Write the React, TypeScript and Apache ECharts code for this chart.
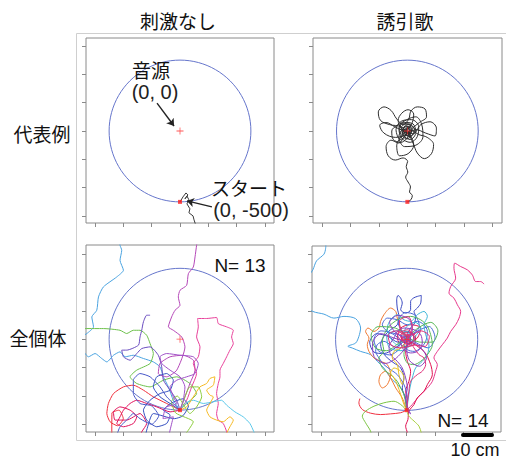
import React, { useEffect, useRef } from "react";
import * as echarts from "echarts";

// ---------- data (arena units) ----------
const ARENA_RADIUS = 500;
const SOURCE = [0, 0];
const START = [0, -500];
const TICKS = [-600, -400, -200, 0, 200, 400, 600];

const colTitles = ["刺激なし", "誘引歌"];
const rowTitles = ["代表例", "全個体"];
const nLabels = ["N= 13", "N= 14"];

// representative example, no stimulus
const exampleNoStim = [
  [0, -500], [21, -465], [42, -437], [56, -451], [35, -479], [49, -458], [63, -486],
  [49, -514], [70, -549], [63, -577], [92, -599], [99, -627], [113, -669], [120, -720],
];

// representative example, attractive song
const exampleSong = [
  [0, -500], [25, -485], [35, -455], [15, -430], [22, -395], [5, -360], [-12, -325], [3, -290], [-8, -250], [2, -215],
  [-30, -190], [-85, -205], [-135, -175], [-150, -110], [-115, -65], [-60, -85], [-25, -45],
  [25, 5], [80, -25], [140, -45], [185, -95], [170, -160], [120, -195], [70, -155], [40, -85], [5, -20],
  [-45, 30], [-125, 45], [-190, 75], [-205, 135], [-165, 170], [-115, 145], [-75, 85], [-30, 45],
  [10, 85], [25, 140], [70, 170], [125, 155], [135, 100], [85, 60], [35, 20],
  [-20, -30], [-85, -45], [-165, -15], [-195, 40], [-150, 60], [-90, 30], [-35, 5],
  [40, -20], [95, 45], [160, 65], [205, 20], [195, -35], [130, -15], [60, 10], [10, -10],
  [-40, 15], [-65, 75], [-40, 125], [5, 150], [45, 120], [35, 60], [10, 20],
  [-25, -15], [-75, -105], [-55, -175], [5, -160], [45, -100], [25, -40],
  [-10, 5], [25, 35], [-35, 55], [-55, 5], [-5, -55], [55, 5], [5, 45], [-25, 20], [15, -25],
  [35, 15], [-15, 35], [-35, -20], [25, -35], [0, 5], [-20, -10], [15, -5], [5, 20], [-10, 10], [0, -10],
  [-50, -60], [-80, 10], [-40, 70], [30, 80], [80, 30], [70, -40], [20, -80], [-40, -50], [-60, 20], [-20, 60],
  [40, 50], [60, -10], [20, -60], [-30, -30], [-40, 30], [10, 50], [50, 10], [20, -40], [-20, -20], [-30, 20],
  [10, 30], [30, 0], [0, -30], [-25, 0], [5, 25], [25, -10], [-5, -20], [-15, 10], [10, 15], [15, -10],
  [-45, -80], [-100, -60], [-110, 0], [-70, 40], [60, 100], [100, 50], [110, -40], [60, -100], [-20, -110],
  [-60, -40], [-30, 10], [0, 0],
];

// all individuals, no stimulus (N = 13)
const ns01 = [[0,-500],[-47,-430],[-82,-336],[-117,-265],[-141,-195],[-188,-160],[-258,-136],[-329,-113],[-387,-124],[-423,-89],[-469,-113],[-516,-160],[-552,-136],[-599,-101],[-646,-124],[-669,-101],[-728,-7],[-657,40],[-610,87],[-622,157],[-587,204],[-575,298],[-540,369],[-446,439],[-399,486],[-423,556],[-411,627],[-423,662],[-427,721]];
const ns02 = [[0,-500],[47,-453],[117,-383],[70,-312],[-23,-265],[-117,-289],[-211,-336],[-305,-312],[-352,-265],[-305,-218],[-211,-171],[-188,-101],[-211,-31],[-235,28],[-282,63],[-329,63],[-376,40],[-423,63],[-540,75],[-669,75],[-728,75]];
const ns03 = [[0,-500],[-23,-430],[-70,-359],[-117,-289],[-129,-195],[-153,-113],[-211,-54],[-270,-66],[-305,-101],[-352,-148],[-399,-124],[-411,-77],[-376,-77],[-293,-42],[-282,16],[-270,63],[-258,122],[-235,169],[-211,169]];
const ns04 = [[0,-500],[35,-406],[70,-312],[106,-218],[94,-148],[23,-113],[-70,-124],[-141,-171],[-153,-242],[-94,-265],[-23,-218],[35,-54],[12,16],[-47,63],[-82,87],[-59,157],[-35,204],[0,239],[-12,298],[0,345],[47,380],[59,462],[94,509],[106,580],[117,662],[124,721]];
const ns05 = [[0,-500],[47,-430],[82,-336],[117,-242],[94,-171],[129,-124],[141,-54],[117,16],[129,87],[124,146],[188,146],[258,153],[270,110],[329,87],[376,63],[364,16],[376,-31],[352,-77],[329,-124],[305,-171],[282,-218],[282,-265],[270,-312],[258,-383],[270,-453],[258,-524],[270,-570],[305,-594],[329,-653],[333,-711]];
const ns06 = [[0,-500],[-94,-453],[-188,-406],[-258,-359],[-329,-324],[-399,-336],[-469,-383],[-505,-453],[-516,-524],[-493,-582],[-440,-610],[-400,-560],[-430,-500],[-480,-520],[-481,-664],[-470,-720]];
const ns07 = [[0,-500],[-70,-512],[-164,-477],[-235,-453],[-305,-430],[-352,-453],[-399,-500],[-423,-547],[-446,-594],[-399,-617],[-329,-594],[-305,-547],[-352,-500],[-423,-477],[-469,-512],[-458,-570],[-376,-570],[-282,-524],[-235,-594],[-270,-653],[-282,-688]];
const ns08 = [[0,-500],[-70,-453],[-141,-406],[-188,-336],[-164,-265],[-94,-242],[-47,-289],[-70,-359],[-141,-383],[-211,-430],[-258,-500],[-235,-570],[-164,-617],[-94,-594],[-70,-535],[-117,-500],[-60,-450],[20,-420],[60,-470],[20,-540],[-40,-560],[-188,-524],[-235,-641],[-246,-700]];
const ns09 = [[0,-500],[35,-453],[94,-430],[164,-453],[235,-441],[293,-430],[329,-465],[387,-512],[446,-547],[493,-594],[521,-653],[540,-711]];
const ns10 = [[0,-500],[47,-477],[94,-406],[141,-336],[188,-312],[211,-277],[246,-265],[235,-324],[188,-359],[211,-394],[235,-406],[211,-453],[188,-500],[211,-547],[258,-570],[305,-582],[352,-547],[376,-570],[352,-617],[329,-664],[320,-710]];
const ns11 = [[0,-500],[35,-406],[70,-336],[129,-336],[153,-406],[117,-477],[70,-524],[30,-470],[-20,-400],[-60,-440],[-30,-520],[94,-582],[59,-641],[23,-688]];
const ns12 = [[0,-500],[-47,-453],[-94,-406],[-141,-336],[-211,-265],[-282,-242],[-329,-289],[-329,-383],[-282,-453],[-200,-470],[-150,-540],[-200,-600],[-282,-560],[-329,-524],[-376,-570],[-423,-617],[-446,-676]];
const ns13 = [[0,-500],[23,-430],[35,-336],[0,-265],[-70,-218],[-129,-171],[-141,-124],[-94,-101],[0,-113],[94,-124],[129,-171],[106,-242],[47,-265],[-23,-289],[-70,-336],[-47,-406],[-23,-453],[-100,-480],[-120,-560],[-47,-547],[-70,-641],[-82,-700]];

// all individuals, attractive song (N = 14)
const sg01 = [[0,-500],[-7,-413],[-42,-343],[-113,-272],[-160,-202],[-207,-155],[-254,-108],[-324,-85],[-383,-61],[-413,-49],[-359,-26],[-336,21],[-324,80],[-359,146],[-441,162],[-512,150],[-582,178],[-660,197],[-723,244],[-711,408],[-660,491],[-634,554],[-582,601],[-570,643],[-568,690]];
const sg02 = [[0,-500],[40,-460],[87,-401],[146,-343],[181,-296],[204,-225],[216,-178],[192,-131],[216,-85],[251,-38],[286,9],[310,56],[345,103],[369,150],[380,197],[357,244],[333,291],[298,326],[310,373],[345,432],[333,502],[338,538],[380,514],[427,491],[462,455],[486,408],[521,408],[545,390]];
const sg03 = [[0,-500],[-42,-518],[-113,-526],[-183,-531],[-254,-521],[-312,-495],[-336,-448],[-329,-418]];
const sg04 = [[0,-500],[5,-437],[-7,-366],[16,-296],[28,-225],[5,-155],[-7,-85],[5,-38],[75,9],[99,80],[28,103],[-42,80],[-66,9],[-19,-49],[52,-38],[63,21],[5,56],[-42,33],[-19,-14],[28,-2],[16,33],[-7,9],[30,40],[60,10],[30,-30],[-20,-20],[-40,20],[-10,50],[40,40],[50,0],[20,-30],[-20,-10],[-10,20],[20,20],[25,-5],[0,-15],[-10,5],[122,-85],[169,-178],[181,-249],[146,-319],[122,-366],[75,-413],[52,-460],[16,-507],[9,-566],[-7,-613],[5,-660],[9,-718]];
const sg05 = [[0,-500],[-42,-460],[-89,-437],[-160,-448],[-230,-472],[-289,-507],[-312,-542],[-289,-589],[-254,-648],[-242,-707]];
const sg06 = [[0,-500],[16,-542],[52,-577],[87,-613],[103,-660],[110,-707]];
const sg07 = [[0,-500],[-31,-413],[-77,-343],[-113,-272],[-148,-225],[-183,-249],[-195,-296],[-171,-343],[-136,-319],[-113,-249],[-136,-178],[-183,-155],[-230,-131],[-265,-85],[-277,-38],[-265,9],[-289,56],[-272,80],[-230,56],[-195,80],[-183,127],[-160,174],[-113,221],[-77,197],[-66,150],[-42,80],[-7,9]];
const sg08 = [[0,-500],[-7,-425],[-31,-343],[-19,-272],[-42,-202],[-89,-167],[-136,-131],[-171,-85],[-183,-38],[-160,21],[-113,68],[-66,103],[-54,162],[-66,221],[-70,279],[-61,310],[-42,291],[-31,256],[-42,209],[-7,185],[28,209],[28,268],[47,291],[75,303],[103,310],[99,256],[75,221],[52,197],[63,162],[56,115],[28,80],[5,33],[-7,-2],[-80,-60],[-160,-100],[-230,-90],[-260,-20],[-210,40],[-130,20],[-60,-20],[0,0]];
const sg09 = [[0,-500],[5,-413],[-19,-319],[-66,-249],[-113,-214],[-160,-178],[-195,-131],[-218,-85],[-207,-38],[-160,-14],[-113,-38],[-66,-61],[-42,-14],[-89,33],[-136,56],[-171,103],[-136,150],[-66,138],[5,103],[75,127],[122,103],[146,56],[134,-14],[99,-61],[52,-85],[5,-73],[-19,-38],[16,-2],[-80,40],[-180,60],[-230,0],[-200,-80],[-120,-110],[-40,-60],[20,20],[90,90],[60,170],[-10,190],[-60,120],[-20,40],[60,-20],[150,-60],[200,10],[160,90],[80,60],[10,0]];
const sg10 = [[0,-500],[9,-437],[23,-343],[40,-272],[63,-202],[110,-155],[146,-108],[157,-38],[134,33],[122,103],[146,162],[122,197],[75,174],[28,127],[-19,138],[-66,174],[-113,138],[-136,80],[-113,9],[-66,-38],[-19,-14],[28,21],[5,56],[-70,60],[-140,20],[-120,-60],[-40,-80],[30,-40],[60,20],[100,80],[60,120],[0,90],[-20,30],[10,-10]];
const sg11 = [[0,-500],[-5,-460],[-19,-390],[-42,-343],[-66,-296],[-113,-249],[-160,-214],[-183,-178],[-195,-131],[-160,-85],[-171,-14],[-148,56],[-113,103],[-42,150],[28,162],[99,138],[146,92],[169,33],[181,-38],[146,-108],[99,-155],[52,-178],[5,-167],[-19,-108],[-7,-49],[28,-14],[5,21],[-80,80],[-200,90],[-250,30],[-220,-60],[-140,-80],[-60,-30],[0,10],[80,80],[170,120],[220,60],[180,-20],[100,-20],[30,0]];
const sg12 = [[0,-500],[28,-526],[9,-484],[-7,-413],[5,-343],[-7,-272],[-31,-202],[-66,-155],[-113,-108],[-124,-49],[-89,9],[-66,56],[-19,80],[52,68],[99,33],[110,-26],[75,-85],[28,-96],[-19,-73],[-42,-26],[-7,21],[28,9],[-60,-120],[-150,-170],[-230,-120],[-240,-30],[-180,40],[-90,10],[-20,-10],[40,60],[20,140],[-60,170],[-120,120],[-80,50],[0,0],[90,-50],[140,-130],[90,-190],[20,-150],[0,-60],[10,10]];
const sg13 = [[0,-500],[-19,-460],[-42,-390],[-66,-319],[-89,-272],[-113,-237],[-89,-202],[-42,-225],[-19,-272],[-31,-319],[-54,-249],[-66,-178],[-101,-131],[-89,-85],[-42,-61],[-7,-26]];
const sg14 = [[0,-500],[5,-448],[16,-366],[28,-296],[75,-249],[110,-225],[134,-178],[122,-131],[87,-108],[52,-61],[28,-26],[-7,-14],[-42,-2],[-66,33],[-31,56],[5,68],[40,45],[52,-2],[16,-38],[-19,-26],[-31,9],[-7,33],[16,14],[5,-9],[40,90],[10,160],[-50,130],[-40,60],[30,30],[100,60],[160,20],[130,-50],[60,-40],[-30,-60],[-110,-40],[-130,30],[-70,60],[0,20],[20,-10]];

const noStimTracks = [ns01, ns02, ns03, ns04, ns05, ns06, ns07, ns08, ns09, ns10, ns11, ns12, ns13];
const noStimColors = ["#4aa3e0", "#6cc04a", "#6a4cc0", "#b548b8", "#e8409a", "#f0303c", "#e0105a", "#3650c0", "#5cc8ea", "#f5b820", "#8ccc3c", "#4858c8", "#a052c8"];
const songTracks = [sg01, sg02, sg03, sg04, sg05, sg06, sg07, sg08, sg09, sg10, sg11, sg12, sg13, sg14];
const songColors = ["#4aa3e0", "#e8388c", "#f03040", "#e01050", "#7cc444", "#a8d040", "#f07830", "#3848c0", "#4a6ad8", "#40b8d8", "#58b858", "#8a40c0", "#e8c020", "#e0307a"];

// annotation arrows [from, to]
const sourceArrow = [[-162, 197], [-42, 35]];
const startArrow = [[225, -535], [49, -493]];

// ---------- layout ----------
const PANELS = [
  { left: 86, top: 38, width: 188, height: 185, x: [-663, 663], y: [-649, 656] },
  { left: 313, top: 38, width: 189, height: 185, x: [-666, 668], y: [-649, 656] },
  { left: 86, top: 245, width: 188, height: 187, x: [-663, 663], y: [-654, 664] },
  { left: 312, top: 246, width: 189, height: 186, x: [-666, 664], y: [-654, 659] },
];

const JP = '"Noto Sans CJK JP", sans-serif';
const LAT = '"Liberation Sans", Arial, sans-serif';
const CIRCLE_COLOR = "#6676cc";
const AXIS_COLOR = "#8a8a8a";

function textEl(text: string, x: number, y: number, size: number, family: string, fill = "#111") {
  return {
    type: "text",
    x,
    y,
    z: 100,
    style: {
      text,
      font: `${size}px ${family}`,
      fill,
      align: "center",
      verticalAlign: "middle",
      textAlign: "center",
      textVerticalAlign: "middle",
    },
  };
}

function buildOption() {
  const series: any[] = [];
  PANELS.forEach((_, i) => {
    series.push({
      type: "custom",
      xAxisIndex: i,
      yAxisIndex: i,
      silent: true,
      clip: true,
      z: 1,
      data: [[SOURCE[0], SOURCE[1], ARENA_RADIUS]],
      renderItem: (params: any, api: any) => {
        const c = api.coord([api.value(0), api.value(1)]);
        const r = api.size([api.value(2), 0])[0];
        return {
          type: "circle",
          shape: { cx: c[0], cy: c[1], r },
          style: { fill: "none", stroke: CIRCLE_COLOR, lineWidth: 1 },
        };
      },
    });
  });

  const addTrack = (idx: number, data: number[][], color: string, smooth: number) => {
    series.push({
      type: "line",
      xAxisIndex: idx,
      yAxisIndex: idx,
      data,
      showSymbol: false,
      symbol: "none",
      silent: true,
      clip: true,
      smooth,
      z: 2,
      lineStyle: { color, width: 1 },
      itemStyle: { color },
    });
  };

  addTrack(0, exampleNoStim, "#3a3a3a", 0);
  addTrack(1, exampleSong, "#2e2e2e", 0.35);
  noStimTracks.forEach((t, k) => addTrack(2, t, noStimColors[k], 0.2));
  songTracks.forEach((t, k) => addTrack(3, t, songColors[k], 0.3));

  PANELS.forEach((_, i) => {
    series.push({
      type: "scatter",
      xAxisIndex: i,
      yAxisIndex: i,
      silent: true,
      z: 4,
      symbol: "path://M4,0h1v4h4v1h-4v4h-1v-4h-4v-1h4z",
      symbolSize: 7,
      itemStyle: { color: "#ff2a2a" },
      data: [SOURCE],
    });
    series.push({
      type: "scatter",
      xAxisIndex: i,
      yAxisIndex: i,
      silent: true,
      z: 4,
      symbol: "rect",
      symbolSize: 4,
      itemStyle: { color: "#ff2020" },
      data: [START],
    });
  });

  series.push({
    type: "lines",
    coordinateSystem: "cartesian2d",
    xAxisIndex: 0,
    yAxisIndex: 0,
    silent: true,
    z: 6,
    symbol: ["none", "arrow"],
    symbolSize: 7,
    lineStyle: { color: "#222", width: 1.4, opacity: 1 },
    data: [{ coords: sourceArrow }, { coords: startArrow }],
  });

  const graphic: any[] = [
    { type: "line", shape: { x1: 76.5, y1: 33.5, x2: 506, y2: 33.5 }, style: { stroke: "#cfcfcf", lineWidth: 1 } },
    { type: "line", shape: { x1: 76.5, y1: 33.5, x2: 76.5, y2: 440.5 }, style: { stroke: "#cfcfcf", lineWidth: 1 } },
    { type: "line", shape: { x1: 76.5, y1: 440.5, x2: 506, y2: 440.5 }, style: { stroke: "#cfcfcf", lineWidth: 1 } },
    { type: "line", z: 100, shape: { x1: 463, y1: 435, x2: 492, y2: 435 }, style: { stroke: "#000", lineWidth: 4, lineCap: "round" } },
    textEl(colTitles[0], 178, 20, 19, JP),
    textEl(colTitles[1], 405, 20, 19, JP),
    textEl(rowTitles[0], 42, 133, 19, JP),
    textEl(rowTitles[1], 38, 337, 19, JP),
    textEl("音源", 151, 69, 19, JP),
    textEl("(0, 0)", 155, 92, 20, LAT, "#222"),
    textEl("スタート", 249, 187, 19, JP),
    textEl("(0, -500)", 251, 210, 20, LAT, "#222"),
    textEl(nLabels[0], 240, 265, 19, LAT),
    textEl(nLabels[1], 463, 420, 19, LAT),
    textEl("10 cm", 475, 450, 18, LAT),
  ];

  return {
    animation: false,
    backgroundColor: "#ffffff",
    grid: PANELS.map((p) => ({
      left: p.left,
      top: p.top,
      width: p.width,
      height: p.height,
      show: true,
      borderColor: AXIS_COLOR,
      borderWidth: 1,
      backgroundColor: "transparent",
    })),
    xAxis: PANELS.map((p, i) => ({
      gridIndex: i,
      type: "value",
      min: p.x[0],
      max: p.x[1],
      position: "bottom",
      axisLine: { show: false, onZero: false },
      axisTick: { show: true, inside: false, length: 4, lineStyle: { color: AXIS_COLOR }, customValues: TICKS },
      axisLabel: { show: false, customValues: TICKS },
      splitLine: { show: false },
    })),
    yAxis: PANELS.map((p, i) => ({
      gridIndex: i,
      type: "value",
      min: p.y[0],
      max: p.y[1],
      position: "left",
      axisLine: { show: false, onZero: false },
      axisTick: { show: true, inside: false, length: 4, lineStyle: { color: AXIS_COLOR }, customValues: TICKS },
      axisLabel: { show: false, customValues: TICKS },
      splitLine: { show: false },
    })),
    series,
    graphic,
  };
}

export default function App() {
  const ref = useRef<HTMLDivElement>(null);
  useEffect(() => {
    const chart = echarts.init(ref.current!, null, { renderer: "svg" });
    chart.setOption(buildOption() as any);
    return () => chart.dispose();
  }, []);
  return <div ref={ref} style={{ position: "absolute", left: 0, top: 0, width: 506, height: 460 }} />;
}
